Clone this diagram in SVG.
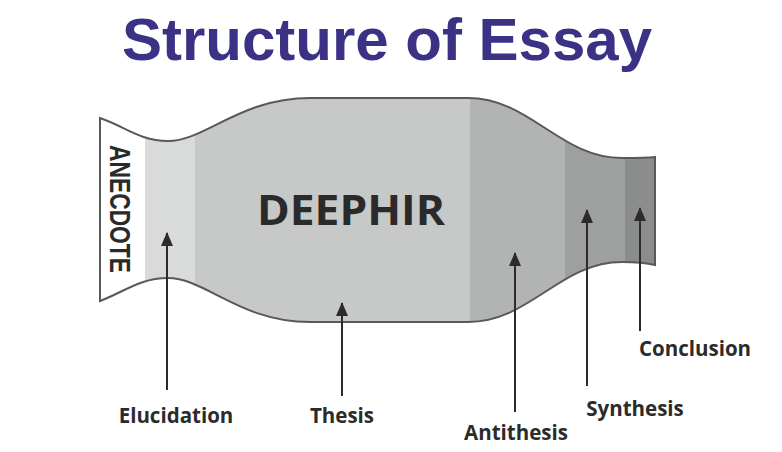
<svg xmlns="http://www.w3.org/2000/svg" width="782" height="452" viewBox="0 0 782 452">
<style>
.lbl{font-family:"Open Sans","Liberation Sans",sans-serif;font-weight:700;font-size:20.5px;fill:#2b2b2b;text-anchor:middle}
.arr{stroke:#2b2b2b;stroke-width:2;fill:none;marker-end:url(#ah)}
</style>
<defs>
<marker id="ah" viewBox="0 0 14 12" refX="13" refY="6" markerWidth="14" markerHeight="12" markerUnits="userSpaceOnUse" orient="auto">
<path d="M0,0 L14,6 L0,12 Z" fill="#2b2b2b"/>
</marker>
<clipPath id="shape">
<path d="M100,118 C124,126 140,141 168,141 C205,141 240,98 310,98 L468,98 C530,98 560,158 622,158 C638,158 647,158 655,157 L655,265 C647,263 638,262 622,262 C560,262 530,322 468,322 L310,322 C240,322 205,278 168,278 C140,278 124,292 100,301 Z"/>
</clipPath>
</defs>
<rect width="782" height="452" fill="#ffffff"/>
<text x="387" y="60" font-family="Liberation Sans, Arial, sans-serif" font-weight="700" font-size="60" fill="#3b3286" text-anchor="middle">Structure of Essay</text>
<g id="body">
<g clip-path="url(#shape)">
<rect x="95" y="90" width="50" height="240" fill="#ffffff"/>
<rect x="145" y="90" width="50" height="240" fill="#d9dada"/>
<rect x="195" y="90" width="275" height="240" fill="#c7c8c8"/>
<rect x="470" y="90" width="95" height="240" fill="#b2b3b3"/>
<rect x="565" y="90" width="60" height="240" fill="#9e9f9f"/>
<rect x="625" y="90" width="35" height="240" fill="#8b8c8c"/>
</g>
<path d="M100,118 C124,126 140,141 168,141 C205,141 240,98 310,98 L468,98 C530,98 560,158 622,158 C638,158 647,158 655,157 L655,265 C647,263 638,262 622,262 C560,262 530,322 468,322 L310,322 C240,322 205,278 168,278 C140,278 124,292 100,301 Z" fill="none" stroke="#595959" stroke-width="2"/>
</g>
<g id="anecdote">
<text transform="translate(110,145) rotate(90)" x="0" y="0" font-family="Liberation Sans, Arial, sans-serif" font-weight="700" font-size="30" fill="#2a2a2a" textLength="128" lengthAdjust="spacingAndGlyphs">ANECDOTE</text>
</g>
<g id="deephir">
<text x="351" y="225" font-family="Open Sans, Liberation Sans, sans-serif" font-weight="700" font-size="42" fill="#2a2a2a" text-anchor="middle" textLength="188" lengthAdjust="spacingAndGlyphs">DEEPHIR</text>
</g>
<g id="connectors">
<line class="arr" x1="167" y1="390" x2="167" y2="233"/>
<line class="arr" x1="342" y1="396" x2="342" y2="303"/>
<line class="arr" x1="515" y1="412" x2="515" y2="253"/>
<line class="arr" x1="587" y1="386" x2="587" y2="210"/>
<line class="arr" x1="640" y1="331" x2="640" y2="208"/>
</g>
<g id="elucidation"><text class="lbl" x="176" y="423">Elucidation</text></g>
<g id="thesis"><text class="lbl" x="342" y="423">Thesis</text></g>
<g id="antithesis"><text class="lbl" x="516" y="440">Antithesis</text></g>
<g id="synthesis"><text class="lbl" x="635" y="416">Synthesis</text></g>
<g id="conclusion"><text class="lbl" x="695" y="356">Conclusion</text></g>
</svg>
